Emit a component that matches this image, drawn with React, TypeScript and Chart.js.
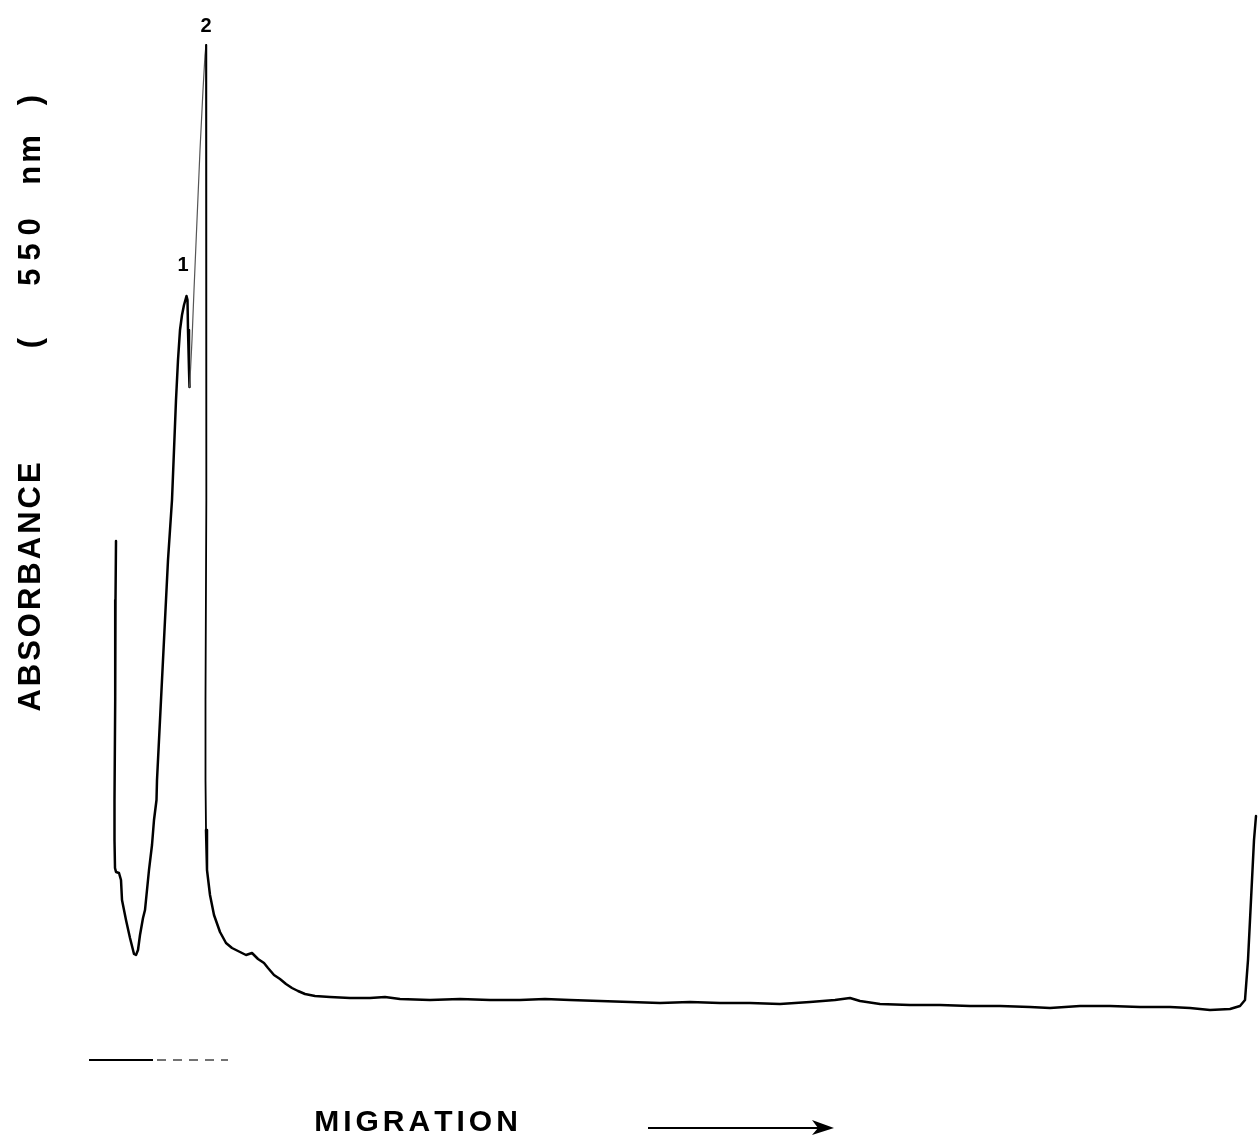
import { useEffect, useRef } from "react";
import { Chart, registerables } from "chart.js";

Chart.register(...registerables);

// Densitometric scan of the stained strip: migration distance (mm) of each sampled point
const migration = [
  11.6, 11.55, 11.52, 11.45, 11.45, 11.5, 11.6, 11.9, 12.1, 12.2, 12.6, 13.0, 13.4, 13.6, 13.8,
  14.0, 14.3, 14.5, 14.7, 14.9, 15.2, 15.4, 15.65, 15.7, 15.9, 16.1, 16.3, 16.6, 16.8, 17.0,
  17.2, 17.4, 17.6, 17.8, 18.0, 18.2, 18.4, 18.65, 18.75, 18.8, 18.9, 18.95, 19.0, 19.2, 19.4,
  19.7, 20.0, 20.3, 20.5, 20.6, 20.65, 20.65, 20.6, 20.55, 20.55, 20.6, 20.7, 21.0, 21.4, 22.0,
  22.6, 23.2, 24.0, 24.6, 25.2, 25.8, 26.4, 26.8, 27.4, 28.0, 28.6, 29.2, 29.8, 30.5, 31.5,
  33.0, 35.0, 37.0, 38.5, 40.0, 43.0, 46.0, 49.0, 52.0, 54.5, 57.0, 60.0, 63.0, 66.0, 69.0,
  72.0, 75.0, 78.0, 81.0, 83.5, 85.0, 86.0, 88.0, 91.0, 94.0, 97.0, 100.0, 103.0, 105.0, 108.0,
  111.0, 114.0, 117.0, 119.0, 121.0, 123.0, 124.0, 124.5, 124.8, 125.1, 125.4, 125.6,
];

// Absorbance at 550 nm (arbitrary units above recorder zero)
const absorbance = [
  0.479, 0.42, 0.32, 0.22, 0.18, 0.152, 0.148, 0.147, 0.14, 0.12, 0.1, 0.082, 0.066, 0.065, 0.07,
  0.085, 0.102, 0.11, 0.13, 0.15, 0.175, 0.2, 0.22, 0.24, 0.28, 0.32, 0.36, 0.42, 0.46, 0.49,
  0.52, 0.57, 0.62, 0.66, 0.69, 0.705, 0.715, 0.724, 0.72, 0.69, 0.65, 0.633, 0.64, 0.68, 0.73,
  0.8, 0.87, 0.93, 0.965, 0.975, 0.92, 0.72, 0.52, 0.32, 0.24, 0.19, 0.15, 0.125, 0.105, 0.088,
  0.077, 0.072, 0.068, 0.065, 0.067, 0.061, 0.057, 0.052, 0.045, 0.041, 0.036, 0.032, 0.029, 0.026, 0.024,
  0.023, 0.022, 0.022, 0.023, 0.021, 0.02, 0.021, 0.02, 0.02, 0.021, 0.02, 0.019, 0.018, 0.017, 0.018,
  0.017, 0.017, 0.016, 0.018, 0.02, 0.022, 0.019, 0.016, 0.015, 0.015, 0.014, 0.014, 0.013, 0.012, 0.014,
  0.014, 0.013, 0.013, 0.012, 0.01, 0.011, 0.014, 0.02, 0.06, 0.12, 0.18, 0.204,
];

// Numbered bands: label and the sample index of its maximum
const bandLabels = ["1", "2"];
const bandPeakIndex = [37, 49];
// Local minimum between band 1 and band 2
const valleyIndex = 41;
// Sample where the fast fall after band 2 flattens out
const tailIndex = 55;

// Application zone marked under the strip (mm)
const applicationStart = 8.9;
const applicationSolidEnd = 15.3;
const applicationEnd = 22.8;

const axisTitleY = ["ABSORBANCE", "(", "550", "nm", ")"];
const axisTitleX = "MIGRATION";

const FONT = "'Liberation Sans', Arial, Helvetica, sans-serif";

function drawSpaced(
  ctx: CanvasRenderingContext2D,
  text: string,
  cx: number,
  cy: number,
  spacing: number
) {
  const widths = Array.from(text).map((c) => ctx.measureText(c).width);
  const total = widths.reduce((a, b) => a + b, 0) + spacing * (widths.length - 1);
  let x = cx - total / 2;
  ctx.textAlign = "left";
  ctx.textBaseline = "middle";
  Array.from(text).forEach((c, i) => {
    ctx.fillText(c, x, cy);
    x += widths[i] + spacing;
  });
}

const annotations = {
  id: "scanAnnotations",
  afterDraw(chart: any) {
    const { ctx, scales } = chart;
    const xs = scales.x;
    const ys = scales.y;
    ctx.save();
    ctx.fillStyle = "#000";
    ctx.strokeStyle = "#000";

    // band numbers above their maxima
    ctx.font = `bold 20px ${FONT}`;
    const offsets = [
      [-3.5, -31],
      [0, -19],
    ];
    bandLabels.forEach((lab, i) => {
      const k = bandPeakIndex[i];
      const px = xs.getPixelForValue(migration[k]) + offsets[i][0];
      const py = ys.getPixelForValue(absorbance[k]) + offsets[i][1];
      ctx.textAlign = "center";
      ctx.textBaseline = "middle";
      ctx.fillText(lab, px, py);
    });

    // application zone under the strip
    const yMark = ys.getPixelForValue(-0.04);
    ctx.lineWidth = 2.2;
    ctx.beginPath();
    ctx.moveTo(xs.getPixelForValue(applicationStart), yMark);
    ctx.lineTo(xs.getPixelForValue(applicationSolidEnd), yMark);
    ctx.stroke();
    ctx.lineWidth = 1.6;
    ctx.strokeStyle = "#444";
    ctx.setLineDash([9, 7]);
    ctx.beginPath();
    ctx.moveTo(xs.getPixelForValue(applicationSolidEnd) + 4, yMark);
    ctx.lineTo(xs.getPixelForValue(applicationEnd), yMark);
    ctx.stroke();
    ctx.setLineDash([]);
    ctx.strokeStyle = "#000";

    // vertical axis title
    const yTitlePos = [587, 343, 252, 160, 100];
    const ySpacing = [3, 0, 8, 3, 0];
    ctx.font = `bold 31px ${FONT}`;
    axisTitleY.forEach((t, i) => {
      ctx.save();
      ctx.translate(31, yTitlePos[i]);
      ctx.rotate(-Math.PI / 2);
      drawSpaced(ctx, t, 0, 0, ySpacing[i]);
      ctx.restore();
    });

    // horizontal axis title and direction arrow
    ctx.font = `bold 30px ${FONT}`;
    drawSpaced(ctx, axisTitleX, 416, 1123, 4);
    ctx.lineWidth = 2;
    ctx.beginPath();
    ctx.moveTo(648, 1128);
    ctx.lineTo(822, 1128);
    ctx.stroke();
    ctx.beginPath();
    ctx.moveTo(812, 1120);
    ctx.lineTo(834, 1128);
    ctx.lineTo(812, 1135);
    ctx.lineTo(818, 1128);
    ctx.closePath();
    ctx.fill();
    ctx.restore();
  },
};

export default function App() {
  const canvasRef = useRef<HTMLCanvasElement | null>(null);

  useEffect(() => {
    document.body.style.margin = "0";
    const canvas = canvasRef.current;
    if (!canvas) return;
    const points = migration.map((m, i) => ({ x: m, y: absorbance[i] }));
    const chart = new Chart(canvas, {
      type: "line",
      data: {
        datasets: [
          {
            data: points,
            borderColor: "#000",
            borderWidth: 2.5,
            pointRadius: 0,
            tension: 0,
            fill: false,
            borderJoinStyle: "round",
            borderCapStyle: "round",
            segment: {
              // the pen moves fast on the steep flanks of band 2 and leaves a thinner trace
              borderWidth: (c: any) => {
                const i = c.p0DataIndex;
                if (i >= valleyIndex && i < bandPeakIndex[1]) return 1.2;
                if (i >= bandPeakIndex[1] && i < tailIndex) return 1.8;
                return 2.5;
              },
              borderColor: (c: any) =>
                c.p0DataIndex >= valleyIndex && c.p0DataIndex < bandPeakIndex[1] ? "#555" : "#000",
            },
          },
        ],
      },
      options: {
        animation: false,
        responsive: false,
        events: [],
        layout: { padding: { left: 0, right: 0, top: 0, bottom: 122 } },
        plugins: {
          legend: { display: false },
          tooltip: { enabled: false },
        },
        scales: {
          x: { type: "linear", min: 0, max: 125.8, display: false },
          y: { type: "linear", min: 0, max: 1.02, display: false },
        },
      },
      plugins: [annotations],
    });
    return () => chart.destroy();
  }, []);

  return (
    <div style={{ width: 1258, height: 1142, background: "#fff" }}>
      <canvas ref={canvasRef} width={1258} height={1142} />
    </div>
  );
}
